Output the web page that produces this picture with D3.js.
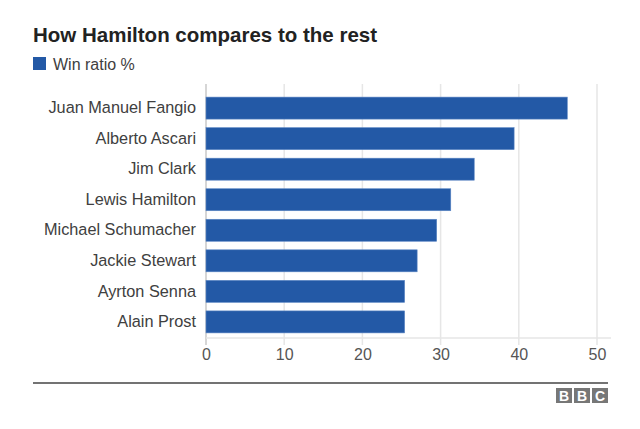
<!DOCTYPE html>
<html>
<head>
<meta charset="utf-8">
<script src="https://cdn.jsdelivr.net/npm/d3@7"></script>
<style>
  body { margin: 0; background: #fff; }
  svg { font-family: 'Liberation Sans', Arial, sans-serif; display: block; }
</style>
</head>
<body>
<div id="chart"></div>
<script>
// Data
const drivers = ['Juan Manuel Fangio', 'Alberto Ascari', 'Jim Clark', 'Lewis Hamilton',
  'Michael Schumacher', 'Jackie Stewart', 'Ayrton Senna', 'Alain Prost']
const winRatio = [46.2, 39.4, 34.3, 31.3, 29.5, 27.0, 25.4, 25.4]
const xTicks = [0, 10, 20, 30, 40, 50]

const dataset = drivers.map((name, i) => ({ name, value: winRatio[i] }))

// Dimensions
const width = 640
const height = 429
const plot = { left: 206, right: 597, gridTop: 84, top: 91, bottom: 339 }

const svg = d3.select('#chart')
  .append('svg')
  .attr('width', width)
  .attr('height', height)

// Title + legend
svg.append('text')
  .attr('x', 33)
  .attr('y', 42)
  .attr('font-size', 20.5)
  .attr('font-weight', 'bold')
  .attr('fill', '#222')
  .text('How Hamilton compares to the rest')

svg.append('rect')
  .attr('x', 33).attr('y', 57)
  .attr('width', 13).attr('height', 13)
  .attr('fill', '#2359a6')

svg.append('text')
  .attr('x', 53)
  .attr('y', 70)
  .attr('font-size', 16)
  .attr('fill', '#404040')
  .text('Win ratio %')

// Scales
const xScale = d3.scaleLinear()
  .domain([0, 50])
  .range([plot.left, plot.right])

const yScale = d3.scaleBand()
  .domain(drivers)
  .range([plot.top, plot.bottom])
  .paddingInner(0.28)
  .paddingOuter(0.2)

// Gridlines
svg.append('g')
  .selectAll('line')
  .data(xTicks)
  .join('line')
  .attr('x1', d => xScale(d))
  .attr('x2', d => xScale(d))
  .attr('y1', plot.gridTop)
  .attr('y2', 345)
  .attr('stroke', d => d === 0 ? '#c8c8c8' : '#e6e6e6')
  .attr('stroke-width', 1.5)

// baseline
svg.append('line')
  .attr('x1', plot.left)
  .attr('x2', 611)
  .attr('y1', 338)
  .attr('y2', 338)
  .attr('stroke', '#e6e6e6')
  .attr('stroke-width', 1.5)

// Bars
svg.append('g')
  .selectAll('rect')
  .data(dataset)
  .join('rect')
  .attr('x', xScale(0))
  .attr('y', d => yScale(d.name))
  .attr('width', d => xScale(d.value) - xScale(0))
  .attr('height', yScale.bandwidth())
  .attr('fill', '#2359a6')
  .attr('stroke', '#5b86c4')
  .attr('stroke-width', 0.6)

// Category labels
const yAxis = d3.axisLeft(yScale).tickSize(0).tickPadding(10)
const yAxisGroup = svg.append('g')
  .attr('transform', `translate(${plot.left}, 0)`)
  .call(yAxis)
yAxisGroup.select('.domain').remove()
yAxisGroup.selectAll('text')
  .attr('font-size', 16.3)
  .attr('font-family', "'Liberation Sans', Arial, sans-serif")
  .attr('fill', '#404040')

// X axis labels
const xAxis = d3.axisBottom(xScale).tickValues(xTicks).tickSize(0).tickPadding(0)
const xAxisGroup = svg.append('g')
  .attr('transform', 'translate(0, 349)')
  .call(xAxis)
xAxisGroup.select('.domain').remove()
xAxisGroup.selectAll('text')
  .attr('font-size', 16)
  .attr('font-family', "'Liberation Sans', Arial, sans-serif")
  .attr('fill', '#555')

// Footer
svg.append('line')
  .attr('x1', 33).attr('x2', 608)
  .attr('y1', 383).attr('y2', 383)
  .attr('stroke', '#444')
  .attr('stroke-width', 1.5)

const bbc = svg.append('g').attr('transform', 'translate(556, 388)')
bbc.selectAll('rect')
  .data(['B', 'B', 'C'])
  .join('rect')
  .attr('x', (d, i) => i * 18)
  .attr('width', 16)
  .attr('height', 15)
  .attr('fill', '#777')
bbc.selectAll('text')
  .data(['B', 'B', 'C'])
  .join('text')
  .attr('x', (d, i) => i * 18 + 8)
  .attr('y', 13)
  .attr('text-anchor', 'middle')
  .attr('font-size', 14)
  .attr('font-weight', 'bold')
  .attr('fill', '#fff')
  .text(d => d)
</script>
</body>
</html>
